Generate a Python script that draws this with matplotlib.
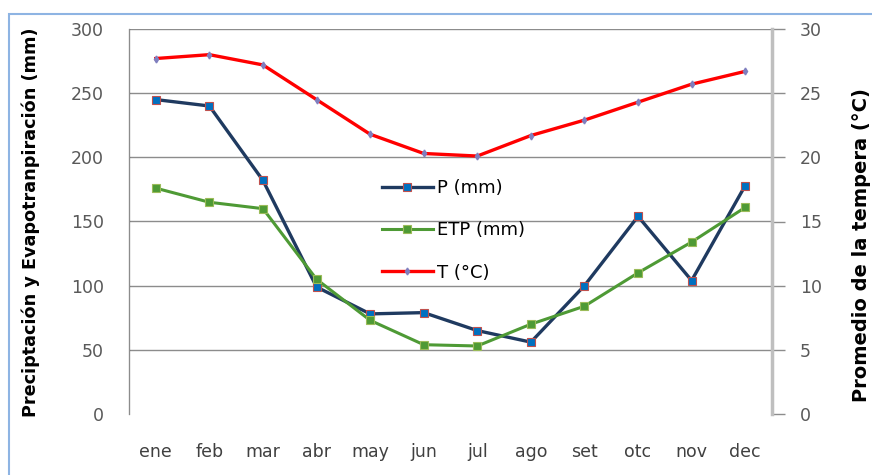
import matplotlib
matplotlib.use("Agg")
from matplotlib import pyplot as plt
from matplotlib.patches import Rectangle

months = ["ene", "feb", "mar", "abr", "may", "jun",
          "jul", "ago", "set", "otc", "nov", "dec"]
precip = [245, 240, 182, 99, 78, 79, 65, 56, 100, 154, 104, 178]
etp = [176, 165, 160, 105, 73, 54, 53, 70, 84, 110, 134, 161]
temp = [27.7, 28.0, 27.2, 24.5, 21.8, 20.3, 20.1, 21.7, 22.9, 24.3, 25.7, 26.7]

grid_c = "#8c8c8c"
tick_c = "#595959"

fig = plt.figure(figsize=(8.72, 4.75), dpi=100)
ax = fig.add_axes([129/872, 1 - 414/475, (772 - 129)/872, (414 - 29)/475])
ax2 = ax.twinx()

x = range(len(months))
l1, = ax.plot(x, precip, '-s', color="#1f3a60", lw=2.4, ms=6,
              mfc="#0070c0", mec="#c0504d", mew=0.8, label="P (mm)")
l2, = ax.plot(x, etp, '-s', color="#4e9a35", lw=2.2, ms=5.5,
              mfc="#4e9a35", mec="#9bbb59", mew=0.8, label="ETP (mm)")
l3, = ax2.plot(x, temp, '-d', color="#ff0000", lw=2.4, ms=3.5,
               mfc="#7f7fbf", mec="#7f7fbf", label="T (°C)")

ax.set_xlim(-0.5, len(months) - 0.5)
ax.set_ylim(0, 300)
ax2.set_ylim(0, 30)
ax.set_yticks(range(0, 301, 50))
ax2.set_yticks(range(0, 31, 5))
ax.set_xticks(list(x))
ax.set_xticklabels(months)

for y in range(50, 301, 50):
    ax.axhline(y, color=grid_c, lw=1, zorder=0)

ax.tick_params(axis='y', length=0, pad=18, labelsize=12.5, labelcolor=tick_c)
ax.tick_params(axis='x', length=0, pad=21, labelsize=12.5, labelcolor="#404040")
ax2.tick_params(axis='y', length=9, width=1, color=grid_c, direction='out',
                pad=11, labelsize=12.5, labelcolor=tick_c)

for s in ["top", "bottom"]:
    ax.spines[s].set_visible(False)
    ax2.spines[s].set_visible(False)
ax.spines["right"].set_visible(False)
ax2.spines["left"].set_color(grid_c)
ax2.spines["right"].set_color("#bfbfbf")
ax2.spines["right"].set_linewidth(2.5)

fig.text(31/872, 1 - 222/475, "Preciptación y Evapotranpiración (mm)",
         rotation=90, ha="center", va="center", fontsize=12.7, fontweight="bold")
fig.text(861/872, 1 - 245/475, "Promedio de la tempera (°C)",
         rotation=90, ha="center", va="center", fontsize=14, fontweight="bold")

ax.legend(handles=[l1, l2, l3], loc="upper left",
          bbox_to_anchor=(382/872, 1 - 179/475), bbox_transform=fig.transFigure,
          frameon=False, borderpad=0, borderaxespad=0, fontsize=13,
          handlelength=2.8, handletextpad=0.25, labelspacing=1.35)

fig.patches.append(Rectangle((9/872, -0.1), 1.2, 1 - 14/475 + 0.1,
                             transform=fig.transFigure, fill=False,
                             edgecolor="#8eb4e3", lw=1.5))

fig.savefig("out.png", dpi=100)
